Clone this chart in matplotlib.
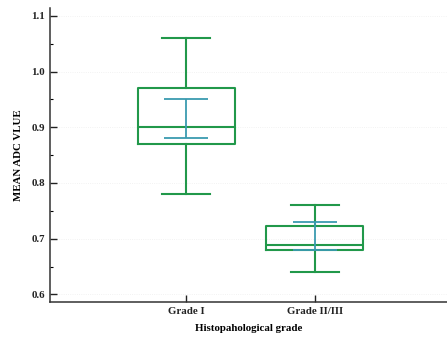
import matplotlib
matplotlib.use('Agg')
import matplotlib.pyplot as plt
from matplotlib.ticker import MultipleLocator

# data
groups = ['Grade I', 'Grade II/III']
whisker_low = [0.78, 0.64]
q1 = [0.87, 0.68]
median = [0.90, 0.689]
q3 = [0.97, 0.723]
whisker_high = [1.06, 0.76]
ci_low = [0.88, 0.68]
ci_high = [0.95, 0.73]

green = '#21984a'
teal = '#3a9bb0'

plt.rcParams['font.family'] = ['Liberation Serif', 'DejaVu Serif']
plt.rcParams['font.weight'] = 'bold'

fig = plt.figure(figsize=(4.47, 3.38), dpi=100)
ax = fig.add_axes([0.112, 0.106, 0.888, 0.870])

positions = [1, 2]
stats = []
for i, g in enumerate(groups):
    stats.append({'label': g, 'whislo': whisker_low[i], 'q1': q1[i], 'med': median[i],
                  'q3': q3[i], 'whishi': whisker_high[i], 'fliers': []})

lp = dict(color=green, linewidth=1.5)
ax.bxp(stats, positions=positions, widths=0.755, capwidths=0.375,
       boxprops=lp, whiskerprops=lp, capprops=lp, medianprops=lp,
       showfliers=False, manage_ticks=False, zorder=2)

# confidence interval of the median
mid = [(h + l) / 2 for h, l in zip(ci_high, ci_low)]
err_lo = [m - l for m, l in zip(mid, ci_low)]
err_hi = [h - m for h, m in zip(ci_high, mid)]
ax.errorbar(positions, mid, yerr=[err_lo, err_hi], fmt='none', ecolor=teal,
            elinewidth=1.3, capsize=15.5, capthick=1.3, zorder=3)

ax.set_xlim(-0.06, 3.03)
ax.set_ylim(0.586, 1.114)
ax.set_xticks(positions)
ax.set_xticklabels(groups)
ax.yaxis.set_major_locator(MultipleLocator(0.1))
ax.yaxis.set_minor_locator(MultipleLocator(0.05))
ax.yaxis.set_major_formatter(matplotlib.ticker.FormatStrFormatter('%.1f'))

ax.tick_params(axis='both', which='major', direction='in', length=5, width=1.0,
               labelsize=7.8, colors='#222222')
ax.tick_params(axis='y', which='minor', direction='in', length=2.5, width=0.8)

for side in ['top', 'right']:
    ax.spines[side].set_visible(False)
for side in ['left', 'bottom']:
    ax.spines[side].set_linewidth(1.1)
    ax.spines[side].set_color('#333333')

ax.yaxis.grid(True, color='#eeeeee', linewidth=0.6, linestyle=':')
ax.set_axisbelow(True)

ax.set_ylabel('MEAN ADC VLUE', fontsize=7.8, fontweight='bold', labelpad=6)
ax.set_xlabel('Histopahological grade', fontsize=7.8, fontweight='bold', labelpad=6)

fig.savefig('out.png', dpi=100, facecolor='white')
